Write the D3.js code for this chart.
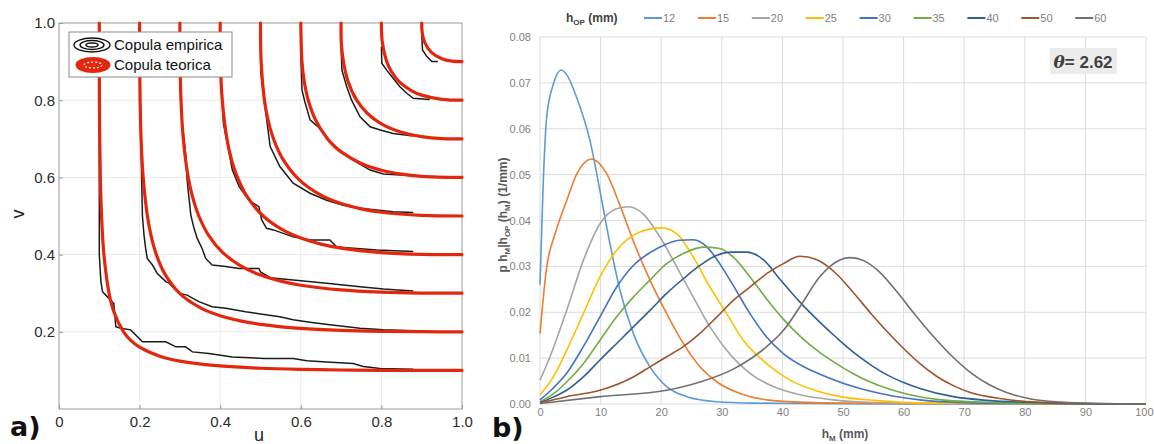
<!DOCTYPE html>
<html>
<head>
<meta charset="utf-8">
<script src="https://cdn.jsdelivr.net/npm/d3@7"></script>
<style>
  body { margin: 0; background: #fff; }
  text { font-family: "Liberation Sans", Arial, sans-serif; }
</style>
</head>
<body>
<div id="chart"></div>
<script>
// ---------- panel a) copula contours ----------
var copulaLevels = [0.1, 0.2, 0.3, 0.4, 0.5, 0.6, 0.7, 0.8, 0.9];

// theoretical copula contours, [u, v]
var copulaTeorica = [
  [[0.1,1.0],[0.1003,0.8],[0.1011,0.7],[0.1026,0.6],[0.1056,0.5],[0.1115,0.4],[0.1242,0.3],[0.1368,0.25],[0.1603,0.2],[0.178,0.178],[0.2,0.1603],[0.25,0.1368],[0.3,0.1242],[0.4,0.1115],[0.5,0.1056],[0.6,0.1026],[0.7,0.1011],[0.8,0.1003],[1.0,0.1]],
  [[0.2,1.0],[0.2002,0.9],[0.2012,0.8],[0.2037,0.7],[0.2089,0.6],[0.2194,0.5],[0.2283,0.45],[0.2416,0.4],[0.2626,0.35],[0.2995,0.2995],[0.35,0.2626],[0.4,0.2416],[0.45,0.2283],[0.5,0.2194],[0.6,0.2089],[0.7,0.2037],[0.8,0.2012],[0.9,0.2002],[1.0,0.2]],
  [[0.3,1.0],[0.3004,0.9],[0.3027,0.8],[0.3084,0.7],[0.3207,0.6],[0.3313,0.55],[0.347,0.5],[0.3713,0.45],[0.4058,0.4058],[0.45,0.3713],[0.5,0.347],[0.55,0.3313],[0.6,0.3207],[0.7,0.3084],[0.8,0.3027],[0.9,0.3004],[1.0,0.3]],
  [[0.4,1.0],[0.4004,0.9],[0.4052,0.8],[0.4167,0.7],[0.4271,0.65],[0.4428,0.6],[0.467,0.55],[0.5033,0.5033],[0.55,0.467],[0.6,0.4428],[0.65,0.4271],[0.7,0.4167],[0.8,0.4052],[0.9,0.4004],[1.0,0.4]],
  [[0.5,1.0],[0.5016,0.9],[0.5098,0.8],[0.5185,0.75],[0.5322,0.7],[0.554,0.65],[0.595,0.595],[0.65,0.554],[0.7,0.5322],[0.75,0.5185],[0.8,0.5098],[0.9,0.5016],[1.0,0.5]],
  [[0.6,1.0],[0.6029,0.9],[0.6084,0.85],[0.6185,0.8],[0.6361,0.75],[0.6661,0.7],[0.682,0.682],[0.7,0.6661],[0.75,0.6361],[0.8,0.6185],[0.85,0.6084],[0.9,0.6029],[1.0,0.6]],
  [[0.7,1.0],[0.7005,0.95],[0.7057,0.9],[0.7168,0.85],[0.7387,0.8],[0.7655,0.7655],[0.8,0.7387],[0.85,0.7168],[0.9,0.7057],[0.95,0.7005],[1.0,0.7]],
  [[0.8,1.0],[0.8023,0.95],[0.8131,0.9],[0.8244,0.875],[0.846,0.846],[0.875,0.8244],[0.9,0.8131],[0.95,0.8023],[1.0,0.8]],
  [[0.9,1.0],[0.9013,0.975],[0.9075,0.95],[0.924,0.924],[0.95,0.9075],[0.975,0.9013],[1.0,0.9]]
];

// empirical copula contours, [u, v]
var copulaEmpirica = [
  [[0.1,0.88],[0.1,0.40],[0.104,0.33],[0.108,0.304],[0.116,0.295],[0.136,0.274],[0.141,0.213],[0.153,0.209],[0.178,0.205],[0.207,0.174],[0.265,0.174],[0.29,0.161],[0.314,0.161],[0.331,0.148],[0.372,0.144],[0.43,0.135],[0.509,0.131],[0.581,0.131],[0.615,0.125],[0.664,0.122],[0.73,0.118],[0.755,0.11],[0.797,0.105],[0.879,0.103]],
  [[0.2,0.88],[0.202,0.79],[0.205,0.6],[0.207,0.5],[0.211,0.45],[0.215,0.416],[0.219,0.39],[0.232,0.373],[0.244,0.351],[0.265,0.33],[0.273,0.326],[0.298,0.30],[0.318,0.295],[0.347,0.278],[0.38,0.265],[0.414,0.261],[0.463,0.252],[0.509,0.245],[0.548,0.239],[0.581,0.231],[0.623,0.225],[0.672,0.218],[0.747,0.209],[0.805,0.205],[0.879,0.203]],
  [[0.3,0.88],[0.305,0.75],[0.314,0.662],[0.318,0.593],[0.327,0.503],[0.335,0.468],[0.343,0.442],[0.355,0.416],[0.364,0.39],[0.38,0.373],[0.414,0.369],[0.447,0.364],[0.496,0.364],[0.5,0.355],[0.524,0.34],[0.581,0.334],[0.664,0.326],[0.747,0.317],[0.805,0.311],[0.879,0.306]],
  [[0.4,0.88],[0.408,0.74],[0.43,0.62],[0.447,0.576],[0.471,0.541],[0.496,0.524],[0.503,0.49],[0.515,0.468],[0.532,0.464],[0.581,0.446],[0.623,0.438],[0.672,0.438],[0.689,0.42],[0.739,0.416],[0.789,0.412],[0.879,0.408]],
  [[0.5,0.88],[0.508,0.809],[0.524,0.68],[0.548,0.628],[0.581,0.585],[0.623,0.559],[0.664,0.541],[0.705,0.528],[0.747,0.52],[0.829,0.511],[0.879,0.509]],
  [[0.6,0.92],[0.603,0.826],[0.61,0.796],[0.623,0.749],[0.643,0.731],[0.664,0.705],[0.672,0.692],[0.697,0.671],[0.73,0.645],[0.772,0.619],[0.805,0.609],[0.879,0.604]],
  [[0.7,0.939],[0.702,0.878],[0.714,0.835],[0.726,0.8],[0.747,0.757],[0.772,0.731],[0.797,0.723],[0.829,0.714],[0.879,0.707]],
  [[0.8,0.939],[0.801,0.896],[0.813,0.878],[0.829,0.857],[0.846,0.835],[0.863,0.818],[0.879,0.805],[0.92,0.802]],
  [[0.9,0.973],[0.902,0.93],[0.913,0.913],[0.925,0.9],[0.94,0.9]]
];

var uTicks = [0, 0.2, 0.4, 0.6, 0.8, 1.0];
var vTicks = [0.2, 0.4, 0.6, 0.8, 1.0];

// ---------- panel b) conditional densities ----------
var hopValues = [12, 15, 20, 25, 30, 35, 40, 50, 60];
var hopColors = ["#5b9bd5", "#ed7d31", "#a5a5a5", "#ffc000", "#4472c4", "#70ad47", "#2f5f94", "#a0522d", "#707070"];

// [h_M (mm), density (1/mm)]
var density12 = [[0,0.026],[0.5,0.047],[1.1,0.0625],[2.2,0.0697],[3.5,0.0728],[4.4,0.0718],[6.05,0.0668],[8.25,0.0574],[10.2,0.0443],[11.55,0.0349],[13.2,0.0248],[15.4,0.0154],[18.15,0.0081],[20.9,0.0038],[24.2,0.0016],[29.2,0.0005],[35,0.0002],[45,0.0001],[60,0],[100,0]];
var density15 = [[0,0.0154],[1.1,0.0298],[2.5,0.0371],[4.4,0.0443],[6.05,0.0501],[8.5,0.0534],[11,0.0502],[13.2,0.0433],[15.4,0.0355],[18.15,0.027],[20.9,0.0197],[23.65,0.0132],[26.4,0.0081],[29.2,0.0048],[33,0.0023],[37.4,0.0009],[45,0.0003],[60,0.0001],[100,0]];
var density20 = [[0,0.0052],[1.65,0.0103],[4.4,0.0204],[7.15,0.0313],[9.9,0.0393],[12.5,0.0425],[14.6,0.043],[17.05,0.0414],[19.8,0.0364],[22.6,0.0298],[25.3,0.0233],[28.05,0.0168],[30.8,0.0117],[34.65,0.0067],[38.5,0.0038],[42.9,0.002],[48.4,0.0009],[55,0.0003],[65,0.0001],[100,0]];
var density25 = [[0,0.002],[2.2,0.0059],[4.4,0.0117],[7.15,0.0197],[9.9,0.0277],[12.65,0.0335],[16.5,0.0375],[20.1,0.0384],[22.6,0.0371],[25.3,0.032],[28.05,0.0255],[30.8,0.0197],[33.55,0.0139],[37.4,0.0088],[41.25,0.0052],[45.6,0.0029],[49.5,0.0016],[55,0.0008],[65,0.0002],[100,0]];
var density30 = [[0,0.0009],[2.2,0.0035],[4.4,0.0067],[7.15,0.0125],[9.9,0.019],[12.65,0.0255],[15.4,0.0302],[18.15,0.033],[20.9,0.0349],[23,0.0357],[25.3,0.0358],[27.5,0.0343],[29.7,0.0305],[31.9,0.0258],[34.65,0.0197],[37.4,0.0146],[40.15,0.011],[44,0.0078],[46.2,0.0065],[51.7,0.0038],[57.2,0.002],[62.7,0.0009],[70,0.0003],[80,0.0001],[100,0]];
var density35 = [[0,0.0005],[2.2,0.0022],[4.4,0.0048],[7.15,0.0088],[9.9,0.0139],[12.65,0.019],[15.4,0.0233],[18.15,0.027],[20.9,0.0306],[23.65,0.0328],[26.95,0.0342],[29.7,0.0339],[31.9,0.032],[34.65,0.0277],[37.4,0.0229],[40.15,0.0185],[42.9,0.0148],[46.2,0.0112],[48.9,0.0088],[51.7,0.0066],[54.5,0.0048],[57.5,0.0033],[61,0.002],[65.5,0.001],[75,0.0003],[85,0.0001],[100,0]];
var density40 = [[0,0.0003],[2.2,0.0015],[4.4,0.003],[7.15,0.0059],[9.9,0.0096],[12.65,0.0132],[15.4,0.0168],[18.15,0.0204],[20.9,0.0241],[23.65,0.0273],[26.4,0.0302],[29.2,0.0324],[31.5,0.0331],[34.1,0.0331],[36.9,0.0314],[39.6,0.0272],[42.9,0.0222],[46.2,0.0178],[48.9,0.0145],[51.7,0.0113],[54.5,0.0086],[57.2,0.0064],[60,0.0047],[62.7,0.0034],[68.2,0.0016],[73.7,0.0008],[85,0.0002],[100,0]];
var density50 = [[0,0.0002],[4.4,0.0016],[9.9,0.003],[15.4,0.0059],[18.15,0.0081],[20.9,0.0103],[23.65,0.0125],[26.4,0.0154],[29.2,0.019],[31.9,0.0226],[34.65,0.0255],[37.4,0.0284],[40.15,0.0306],[42.9,0.0322],[45.6,0.0315],[48.9,0.0284],[51.7,0.0243],[54.5,0.0199],[57.2,0.0159],[60,0.0121],[62.7,0.0088],[65.5,0.006],[68.2,0.004],[71,0.0025],[76.5,0.0011],[82,0.0004],[90,0.0001],[100,0]];
var density60 = [[0,0.0001],[9.9,0.0016],[20.9,0.003],[26.4,0.0048],[31.9,0.0076],[37.4,0.0125],[40.15,0.016],[42.9,0.0212],[46.2,0.0278],[49.5,0.0314],[51.2,0.0319],[53.5,0.0312],[56,0.0288],[59,0.0243],[62,0.0193],[65,0.0146],[68,0.0104],[71,0.0069],[74,0.0043],[77,0.0025],[81,0.0011],[86,0.0004],[92,0.0001],[100,0]];
var densitySeries = [density12, density15, density20, density25, density30, density35, density40, density50, density60];

var hmTicks = [0, 10, 20, 30, 40, 50, 60, 70, 80, 90, 100];
var pTicks = [0, 0.01, 0.02, 0.03, 0.04, 0.05, 0.06, 0.07, 0.08];
var thetaValue = 2.62;

// ---------- svg ----------
var svg = d3.select("#chart")
  .append("svg")
    .attr("width", 1154)
    .attr("height", 444);

// ===== panel a =====
var xA = d3.scaleLinear().domain([0, 1]).range([59, 462]);
var yA = d3.scaleLinear().domain([0, 1]).range([409, 23]);

var gA = svg.append("g");

// grid
gA.selectAll("vgrid")
  .data(uTicks.filter(function(d) { return d > 0 && d < 1; }))
  .enter()
  .append("line")
    .attr("x1", function(d) { return xA(d); })
    .attr("x2", function(d) { return xA(d); })
    .attr("y1", yA(0))
    .attr("y2", yA(1))
    .attr("stroke", "#e9e9e9");
gA.selectAll("hgrid")
  .data(vTicks.filter(function(d) { return d < 1; }))
  .enter()
  .append("line")
    .attr("x1", xA(0))
    .attr("x2", xA(1))
    .attr("y1", function(d) { return yA(d); })
    .attr("y2", function(d) { return yA(d); })
    .attr("stroke", "#e9e9e9");

// axes
var axA1 = gA.append("g")
  .attr("transform", "translate(0," + yA(0) + ")")
  .call(d3.axisBottom(xA).tickValues(uTicks).tickSize(-4).tickPadding(7)
    .tickFormat(function(d) { return d === 0 ? "0" : d.toFixed(1); }));
var axA2 = gA.append("g")
  .attr("transform", "translate(" + xA(0) + ",0)")
  .call(d3.axisLeft(yA).tickValues(vTicks).tickSize(-4).tickPadding(4)
    .tickFormat(function(d) { return d.toFixed(1); }));
[axA1, axA2].forEach(function(ax) {
  ax.select(".domain").remove();
  ax.selectAll("line").attr("stroke", "#999");
  ax.selectAll("text")
    .attr("fill", "#2b2b2b")
    .style("font-size", "15px")
    .style("font-family", "'Liberation Sans', Arial, sans-serif");
});

// box
gA.append("rect")
  .attr("x", xA(0))
  .attr("y", yA(1))
  .attr("width", xA(1) - xA(0))
  .attr("height", yA(0) - yA(1))
  .attr("fill", "none")
  .attr("stroke", "#9a9a9a");

var lineA = d3.line()
  .x(function(d) { return xA(d[0]); })
  .y(function(d) { return yA(d[1]); });

// empirical (plotted first)
gA.selectAll("emp")
  .data(copulaEmpirica)
  .enter()
  .append("path")
    .attr("d", lineA)
    .attr("fill", "none")
    .attr("stroke", "#1b1b1b")
    .attr("stroke-width", 1.5);

// theoretical on top
gA.selectAll("teo")
  .data(copulaTeorica)
  .enter()
  .append("path")
    .attr("d", lineA.curve(d3.curveCatmullRom.alpha(0.5)))
    .attr("fill", "none")
    .attr("stroke", "#e3260e")
    .attr("stroke-width", 3.2)
    .attr("stroke-linecap", "round");

// legend
var legA = gA.append("g");
legA.append("rect")
  .attr("x", 69).attr("y", 32).attr("width", 163).attr("height", 45)
  .attr("fill", "#fff").attr("stroke", "#8a8a8a");
[[18, 7], [12, 4.5], [6, 2]].forEach(function(r) {
  legA.append("ellipse")
    .attr("cx", 92).attr("cy", 45).attr("rx", r[0]).attr("ry", r[1])
    .attr("fill", "none").attr("stroke", "#111").attr("stroke-width", 1.4);
});
legA.append("ellipse")
  .attr("cx", 93).attr("cy", 65).attr("rx", 17.5).attr("ry", 8)
  .attr("fill", "#e3260e");
legA.append("ellipse")
  .attr("cx", 93).attr("cy", 65).attr("rx", 9).attr("ry", 3)
  .attr("fill", "none").attr("stroke", "#fff").attr("stroke-width", 1.2)
  .attr("stroke-dasharray", "2,2");
legA.append("text").attr("x", 114).attr("y", 50)
  .style("font-size", "15px").attr("fill", "#111").text("Copula empirica");
legA.append("text").attr("x", 114).attr("y", 70)
  .style("font-size", "15px").attr("fill", "#111").text("Copula teorica");

// axis labels
gA.append("text")
  .attr("transform", "translate(24,214) rotate(-90)")
  .attr("text-anchor", "middle")
  .style("font-size", "18px").attr("fill", "#222")
  .text("v");
gA.append("text")
  .attr("x", 259).attr("y", 441)
  .attr("text-anchor", "middle")
  .style("font-size", "18px").attr("fill", "#222")
  .text("u");
svg.append("text")
  .attr("x", 10).attr("y", 436)
  .style("font-size", "27px").style("font-weight", "bold").attr("fill", "#111")
  .style("font-family", "'DejaVu Sans', sans-serif")
  .text("a)");

// ===== panel b =====
var xB = d3.scaleLinear().domain([0, 100]).range([540, 1146]);
var yB = d3.scaleLinear().domain([0, 0.08]).range([404, 37]);

var gB = svg.append("g");

gB.selectAll("vgridb")
  .data(hmTicks)
  .enter()
  .append("line")
    .attr("x1", function(d) { return xB(d); })
    .attr("x2", function(d) { return xB(d); })
    .attr("y1", yB(0))
    .attr("y2", yB(0.08))
    .attr("stroke", "#dcdcdc");
gB.selectAll("hgridb")
  .data(pTicks)
  .enter()
  .append("line")
    .attr("x1", xB(0))
    .attr("x2", xB(100))
    .attr("y1", function(d) { return yB(d); })
    .attr("y2", function(d) { return yB(d); })
    .attr("stroke", "#dcdcdc");

var axB1 = gB.append("g")
  .attr("transform", "translate(0," + yB(0) + ")")
  .call(d3.axisBottom(xB).tickValues(hmTicks).tickSize(0).tickPadding(4).tickFormat(d3.format("d")));
var axB2 = gB.append("g")
  .attr("transform", "translate(" + xB(0) + ",0)")
  .call(d3.axisLeft(yB).tickValues(pTicks).tickSize(0).tickPadding(9).tickFormat(d3.format(".2f")));
[axB1, axB2].forEach(function(ax) {
  ax.select(".domain").remove();
  ax.selectAll("text")
    .attr("fill", "#7f7f7f")
    .style("font-size", "11px")
    .style("font-family", "'Liberation Sans', Arial, sans-serif");
});
// keep the last x label inside the window
axB1.selectAll(".tick text")
  .filter(function(d) { return d === 100; })
  .attr("text-anchor", "end")
  .attr("x", 7);

var lineB = d3.line()
  .x(function(d) { return xB(d[0]); })
  .y(function(d) { return yB(d[1]); })
  .curve(d3.curveMonotoneX);

gB.selectAll("dens")
  .data(densitySeries)
  .enter()
  .append("path")
    .attr("d", lineB)
    .attr("fill", "none")
    .attr("stroke", function(d, i) { return hopColors[i]; })
    .attr("stroke-width", 1.6);

// legend
var legTitle = gB.append("text")
  .attr("x", 566).attr("y", 22)
  .style("font-size", "12px").style("font-weight", "bold").attr("fill", "#404040");
legTitle.append("tspan").text("h");
legTitle.append("tspan").attr("dy", 3).style("font-size", "8px").text("OP");
legTitle.append("tspan").attr("dy", -3).text(" (mm)");

var legItems = gB.selectAll("legb")
  .data(hopValues)
  .enter()
  .append("g")
    .attr("transform", function(d, i) { return "translate(" + (644 + i * 53.9) + ",18)"; });
legItems.append("line")
  .attr("x1", 0).attr("x2", 18)
  .attr("stroke", function(d, i) { return hopColors[i]; })
  .attr("stroke-width", 2);
legItems.append("text")
  .attr("x", 19).attr("y", 4)
  .style("font-size", "11px").attr("fill", "#7f7f7f")
  .text(function(d) { return d; });

// theta box
gB.append("rect")
  .attr("x", 1050).attr("y", 48).attr("width", 67).attr("height", 26)
  .attr("fill", "#ececec");
var thetaText = gB.append("text")
  .attr("x", 1083).attr("y", 68)
  .attr("text-anchor", "middle")
  .style("font-size", "17px").style("font-weight", "bold").attr("fill", "#404040");
thetaText.append("tspan").style("font-style", "italic").style("font-family", "'DejaVu Serif', serif").text("\u03b8");
thetaText.append("tspan").text("= " + thetaValue.toFixed(2));

// axis titles
var yTitle = gB.append("text")
  .attr("transform", "translate(507,215) rotate(-90)")
  .attr("text-anchor", "middle")
  .style("font-size", "12px").style("font-weight", "bold").attr("fill", "#595959");
yTitle.append("tspan").text("p h");
yTitle.append("tspan").attr("dy", 3).style("font-size", "8px").text("M");
yTitle.append("tspan").attr("dy", -3).text("|h");
yTitle.append("tspan").attr("dy", 3).style("font-size", "8px").text("OP");
yTitle.append("tspan").attr("dy", -3).text(" (h");
yTitle.append("tspan").attr("dy", 3).style("font-size", "8px").text("M");
yTitle.append("tspan").attr("dy", -3).text(") (1/mm)");

var xTitle = gB.append("text")
  .attr("x", 845).attr("y", 438)
  .attr("text-anchor", "middle")
  .style("font-size", "12px").style("font-weight", "bold").attr("fill", "#595959");
xTitle.append("tspan").text("h");
xTitle.append("tspan").attr("dy", 3).style("font-size", "8px").text("M");
xTitle.append("tspan").attr("dy", -3).text(" (mm)");

svg.append("text")
  .attr("x", 492).attr("y", 437)
  .style("font-size", "27px").style("font-weight", "bold").attr("fill", "#111")
  .style("font-family", "'DejaVu Sans', sans-serif")
  .text("b)");
</script>
</body>
</html>
